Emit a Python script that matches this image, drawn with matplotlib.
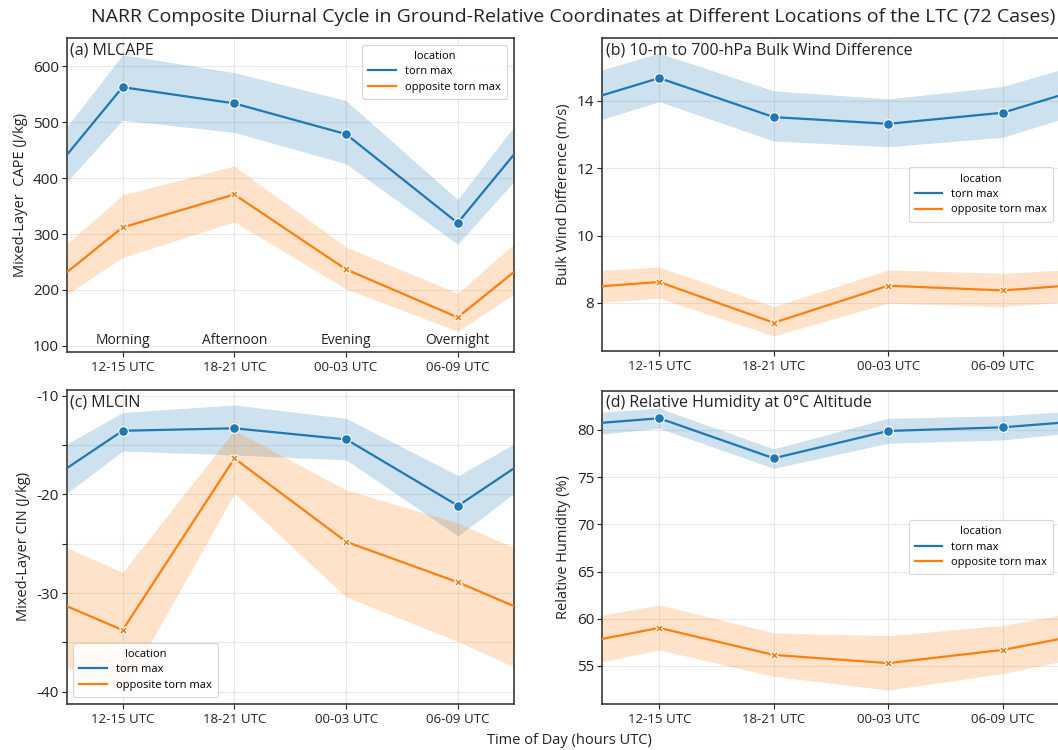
import matplotlib
matplotlib.use("Agg")
import matplotlib.pyplot as plt
import numpy as np

plt.rcParams['font.family'] = ['Open Sans', 'DejaVu Sans']

categories = ["12-15 UTC", "18-21 UTC", "00-03 UTC", "06-09 UTC"]
period_names = ["Morning", "Afternoon", "Evening", "Overnight"]
series_names = ["torn max", "opposite torn max"]

# (a) MLCAPE
cape_torn = [563, 534, 479, 320]
cape_torn_lo = [504, 482, 426, 282]
cape_torn_hi = [621, 589, 539, 362]
cape_opp = [312, 371, 237, 151]
cape_opp_lo = [258, 322, 202, 126]
cape_opp_hi = [370, 422, 277, 194]

# (b) Bulk wind difference
bwd_torn = [14.68, 13.52, 13.32, 13.65]
bwd_torn_lo = [13.98, 12.81, 12.64, 12.92]
bwd_torn_hi = [15.42, 14.30, 14.06, 14.43]
bwd_opp = [8.62, 7.41, 8.51, 8.37]
bwd_opp_lo = [8.14, 7.02, 7.99, 7.89]
bwd_opp_hi = [9.06, 7.89, 8.98, 8.88]

# (c) MLCIN
cin_torn = [-13.55, -13.3, -14.42, -21.15]
cin_torn_lo = [-15.6, -16.0, -16.5, -24.2]
cin_torn_hi = [-11.7, -10.94, -12.3, -18.1]
cin_opp = [-33.74, -16.35, -24.8, -28.9]
cin_opp_lo = [-40.1, -19.9, -30.4, -34.9]
cin_opp_hi = [-27.9, -13.5, -19.55, -22.9]

# (d) Relative humidity at 0C altitude
rh_torn = [81.24, 77.0, 79.9, 80.28]
rh_torn_lo = [80.18, 75.94, 78.6, 78.94]
rh_torn_hi = [82.3, 78.0, 81.24, 81.5]
rh_opp = [59.03, 56.17, 55.3, 56.7]
rh_opp_lo = [56.7, 53.9, 52.45, 54.2]
rh_opp_hi = [61.46, 58.5, 58.2, 59.3]

BLUE = "#1f77b4"
ORANGE = "#ff7f0e"
TXT = "#222222"


def wrap(v):
    v = list(v)
    return [v[-1]] + v + [v[0]]


fig = plt.figure(figsize=(10.58, 7.5), dpi=100)
W, H = 1058.0, 750.0


def make_ax(l, r, t, b):
    return fig.add_axes([l / W, 1 - b / H, (r - l) / W, (b - t) / H])


ax_a = make_ax(66.7, 513.5, 38, 352)
ax_b = make_ax(602, 1060, 38, 351)
ax_c = make_ax(66.7, 514, 390, 703.5)
ax_d = make_ax(602, 1060, 390.7, 704)

panels = [
    (ax_a, "(a) MLCAPE", "Mixed-Layer  CAPE (J/kg)",
     (cape_torn, cape_torn_lo, cape_torn_hi), (cape_opp, cape_opp_lo, cape_opp_hi),
     (89, 651), [100, 200, 300, 400, 500, 600], None, "upper right"),
    (ax_b, "(b) 10-m to 700-hPa Bulk Wind Difference", "Bulk Wind Difference (m/s)",
     (bwd_torn, bwd_torn_lo, bwd_torn_hi), (bwd_opp, bwd_opp_lo, bwd_opp_hi),
     (6.57, 15.87), [8, 10, 12, 14], None, "center right"),
    (ax_c, "(c) MLCIN", "Mixed-Layer CIN (J/kg)",
     (cin_torn, cin_torn_lo, cin_torn_hi), (cin_opp, cin_opp_lo, cin_opp_hi),
     (-41.18, -9.42), [-40, -35, -30, -25, -20, -15, -10],
     ["-40", "", "-30", "", "-20", "", "-10"], "lower left"),
    (ax_d, "(d) Relative Humidity at 0\u00b0C Altitude", "Relative Humidity (%)",
     (rh_torn, rh_torn_lo, rh_torn_hi), (rh_opp, rh_opp_lo, rh_opp_hi),
     (50.97, 84.16), [55, 60, 65, 70, 75, 80], None, "center right"),
]

xw = np.arange(-1, len(categories) + 1)
x = np.arange(len(categories))

for ax, label, ylabel, torn, opp, ylim, yticks, yticklabels, legloc in panels:
    ax.set_facecolor("white")
    handles = []
    for (m, lo, hi), col, mk, name in [(torn, BLUE, "o", series_names[0]),
                                       (opp, ORANGE, "X", series_names[1])]:
        ax.fill_between(xw, wrap(lo), wrap(hi), color=col, alpha=0.22, lw=0, zorder=2)
        h, = ax.plot(xw, wrap(m), color=col, lw=1.6, zorder=3, label=name)
        ms = 7 if mk == "o" else 6
        ax.plot(x, m, ls="none", marker=mk, ms=ms, color=col, mec="white", mew=0.8, zorder=4)
        handles.append(h)
    ax.set_xlim(-0.5, len(categories) - 0.5)
    ax.set_ylim(*ylim)
    ax.set_xticks(x)
    ax.set_xticklabels(categories, fontsize=9.5, color=TXT)
    ax.set_yticks(yticks)
    if yticklabels is not None:
        ax.set_yticklabels(yticklabels)
    ax.tick_params(axis="y", labelsize=11, colors=TXT, length=3.5, width=0.8, pad=2)
    ax.tick_params(axis="x", colors=TXT, length=3.5, width=0.8, pad=3)
    ax.grid(True, color="#e8e8e8", lw=0.8, zorder=0)
    ax.set_axisbelow(True)
    for s in ax.spines.values():
        s.set_color("#3a3a3a")
        s.set_linewidth(1.2)
    ax.set_ylabel(ylabel, fontsize=10.5, color=TXT, labelpad=4)
    ax.text(0.008, 0.985, label, transform=ax.transAxes, ha="left", va="top",
            fontsize=11.5, color=TXT, zorder=6)
    leg = ax.legend(handles=handles, title="location", loc=legloc, fontsize=8,
                    title_fontsize=8, frameon=True, fancybox=True, framealpha=0.85,
                    edgecolor="#d0d0d0", handlelength=2.5, borderpad=0.55,
                    labelspacing=0.4, borderaxespad=0.6)
    leg.get_frame().set_linewidth(0.8)
    leg.set_zorder(7)

for i, name in enumerate(period_names):
    ax_a.text(i, 110, name, ha="center", va="center", fontsize=10, color=TXT, zorder=5)

fig.text(573 / W, 1 - 17 / H,
         "NARR Composite Diurnal Cycle in Ground-Relative Coordinates at Different Locations of the LTC (72 Cases)",
         ha="center", va="center", fontsize=14, color=TXT)
fig.text(569 / W, 1 - 741 / H, "Time of Day (hours UTC)", ha="center", va="center",
         fontsize=10.5, color=TXT)

fig.savefig("out.png", dpi=100, facecolor="white")
